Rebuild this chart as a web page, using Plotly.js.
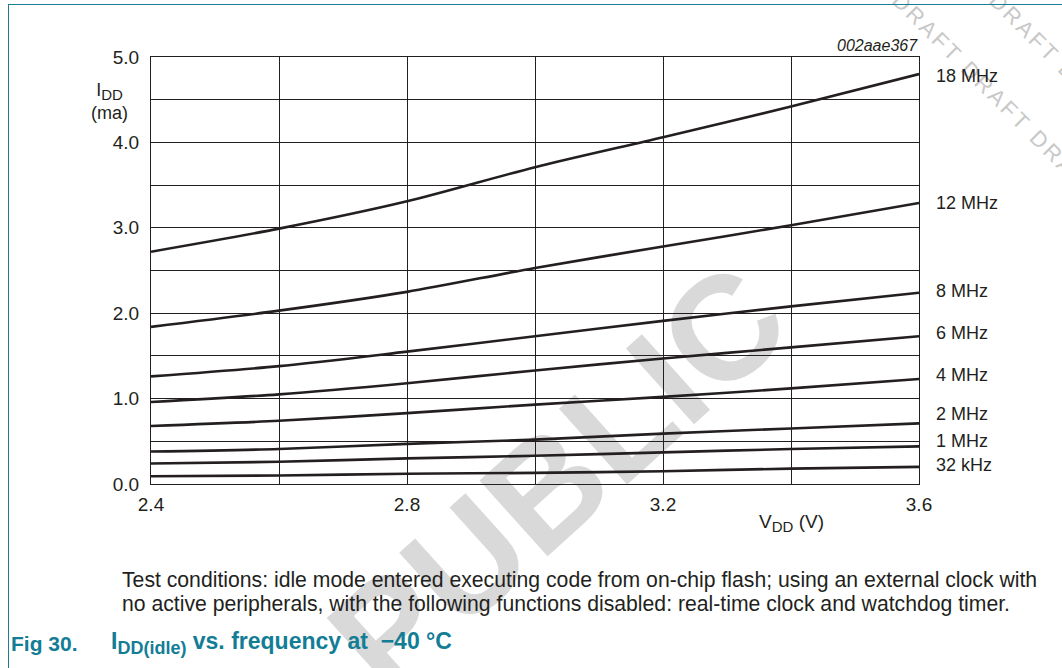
<!DOCTYPE html>
<html>
<head>
<meta charset="utf-8">
<script src="https://cdn.plot.ly/plotly-3.0.1.min.js"></script>
<style>
  html, body { margin:0; padding:0; background:#fff; }
  #wrap { position:relative; width:1062px; height:668px; overflow:hidden; background:#fff; }
  #chart { position:absolute; left:0; top:0; width:1062px; height:668px; z-index:2; }
  .wm { position:absolute; font-family:"Liberation Sans", Arial, sans-serif; font-weight:bold; white-space:nowrap; z-index:1; }
  #pub { left:558px; top:478px; font-size:148px; color:#d9d9d9; transform:translate(-50%,-50%) rotate(-42deg); line-height:1; }
  .draft { font-size:22px; color:#c8c8c8; letter-spacing:3px; transform-origin:0 50%; transform:rotate(45deg); line-height:22px; font-weight:normal; }
  #frameTop { position:absolute; left:8px; top:4px; width:1054px; height:0; border-top:1.5px solid #1a7f94; z-index:3; }
  #frameLeft { position:absolute; left:8px; top:4px; width:0; height:664px; border-left:1.5px solid #1a7f94; z-index:3; }
</style>
</head>
<body>
<div id="wrap">
  <div id="pub" class="wm">PUBLIC</div>
  <div class="wm draft" style="left:896px; top:-14px;">DRAFT DRAFT DRAFT</div>
  <div class="wm draft" style="left:993px; top:-14px;">DRAFT DRAFT</div>
  <div id="frameTop"></div>
  <div id="frameLeft"></div>
  <div id="chart"></div>
</div>
<script>
// ---- data ----
const vdd = [2.4, 2.6, 2.8, 3.0, 3.2, 3.4, 3.6];
const seriesNames = ['18 MHz', '12 MHz', '8 MHz', '6 MHz', '4 MHz', '2 MHz', '1 MHz', '32 kHz'];
const idd18MHz = [2.72, 2.99, 3.31, 3.71, 4.06, 4.42, 4.80];
const idd12MHz = [1.84, 2.03, 2.25, 2.53, 2.78, 3.03, 3.29];
const idd8MHz  = [1.26, 1.38, 1.55, 1.73, 1.91, 2.08, 2.24];
const idd6MHz  = [0.96, 1.05, 1.18, 1.33, 1.47, 1.60, 1.73];
const idd4MHz  = [0.68, 0.74, 0.83, 0.93, 1.02, 1.12, 1.23];
const idd2MHz  = [0.38, 0.41, 0.47, 0.52, 0.59, 0.65, 0.71];
const idd1MHz  = [0.24, 0.26, 0.30, 0.33, 0.37, 0.41, 0.44];
const idd32kHz = [0.09, 0.10, 0.12, 0.13, 0.15, 0.18, 0.20];
const xTickVals = [2.4, 2.8, 3.2, 3.6];
const yTickVals = [0, 1, 2, 3, 4, 5];

const allSeries = [idd18MHz, idd12MHz, idd8MHz, idd6MHz, idd4MHz, idd2MHz, idd1MHz, idd32kHz];
const labelShift = [-2, 0, 2, 3, 4, 9, 5, 2];

const ink = '#231f20';
const teal = '#127d95';
const font = 'Liberation Sans, Arial, sans-serif';
const W = 1062, H = 668, L = 151, R = 919, T = 57, B = 484;
const px = x => (x - L) / (R - L);
const py = y => (B - y) / (B - T);

const traces = allSeries.map((ys, i) => ({
  x: vdd, y: ys, type: 'scatter', mode: 'lines', name: seriesNames[i],
  line: { color: ink, width: 2.6, shape: 'spline', smoothing: 0.8 },
  hoverinfo: 'skip'
}));

const annotations = allSeries.map((ys, i) => ({
  x: vdd[vdd.length - 1], y: ys[ys.length - 1], xref: 'x', yref: 'y',
  text: seriesNames[i], showarrow: false, xanchor: 'left', yanchor: 'middle',
  xshift: 15, yshift: labelShift[i], font: { family: font, size: 18, color: ink }
}));

annotations.push(
  { xref: 'paper', yref: 'paper', x: px(109), y: py(101), text: 'I<sub><span style="font-size:15px">DD</span></sub><br>(ma)', showarrow: false,
    xanchor: 'center', yanchor: 'middle', align: 'center', font: { family: font, size: 18, color: ink } },
  { xref: 'paper', yref: 'paper', x: px(791), y: py(523), text: 'V<sub><span style="font-size:15px">DD</span></sub> (V)', showarrow: false,
    xanchor: 'center', yanchor: 'middle', font: { family: font, size: 19, color: ink } },
  { xref: 'paper', yref: 'paper', x: px(920), y: py(46), text: '<i>002aae367</i>', showarrow: false,
    xanchor: 'right', yanchor: 'middle', font: { family: font, size: 16, color: ink } },
  { xref: 'paper', yref: 'paper', x: px(120), y: py(580), text: 'Test conditions: idle mode entered executing code from on-chip flash; using an external clock with', showarrow: false,
    xanchor: 'left', yanchor: 'middle', font: { family: font, size: 21.2, color: ink } },
  { xref: 'paper', yref: 'paper', x: px(120), y: py(604), text: 'no active peripherals, with the following functions disabled: real-time clock and watchdog timer.', showarrow: false,
    xanchor: 'left', yanchor: 'middle', font: { family: font, size: 21.2, color: ink } },
  { xref: 'paper', yref: 'paper', x: px(9), y: py(643), text: '<b>Fig 30.</b>', showarrow: false,
    xanchor: 'left', yanchor: 'middle', font: { family: font, size: 21, color: teal } },
  { xref: 'paper', yref: 'paper', x: px(109), y: py(643), text: '<b>I<sub><span style="font-size:18px">DD(idle)</span></sub> vs. frequency at \u00a0\u221240 \u00b0C</b>', showarrow: false,
    xanchor: 'left', yanchor: 'middle', font: { family: font, size: 23, color: teal } }
);

const layout = {
  width: W, height: H,
  margin: { l: L, r: W - R, t: T, b: H - B, pad: 0 },
  paper_bgcolor: 'rgba(0,0,0,0)', plot_bgcolor: 'rgba(0,0,0,0)',
  showlegend: false,
  xaxis: {
    range: [2.4, 3.6], tickmode: 'array', tickvals: xTickVals, tickformat: '.1f',
    showgrid: true, gridcolor: ink, gridwidth: 1,
    minor: { tick0: 2.4, dtick: 0.2, showgrid: true, gridcolor: ink, gridwidth: 1 },
    showline: true, mirror: true, linecolor: ink, linewidth: 1, zeroline: false,
    ticks: 'outside', ticklen: 3, tickcolor: 'rgba(0,0,0,0)',
    tickfont: { family: font, size: 19, color: ink }, fixedrange: true
  },
  yaxis: {
    range: [0, 5], tickmode: 'array', tickvals: yTickVals, tickformat: '.1f',
    showgrid: true, gridcolor: ink, gridwidth: 1,
    minor: { tick0: 0, dtick: 0.5, showgrid: true, gridcolor: ink, gridwidth: 1 },
    showline: true, mirror: true, linecolor: ink, linewidth: 1, zeroline: false,
    ticks: 'outside', ticklen: 7, tickcolor: 'rgba(0,0,0,0)',
    tickfont: { family: font, size: 19, color: ink }, fixedrange: true
  },
  annotations: annotations
};

Plotly.newPlot('chart', traces, layout, { staticPlot: true, displayModeBar: false });
</script>
</body>
</html>
